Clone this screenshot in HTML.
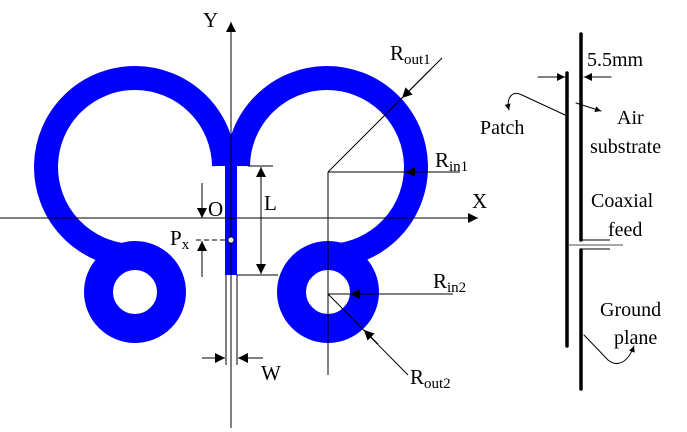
<!DOCTYPE html>
<html><head><style>html,body{margin:0;padding:0;background:#fff}svg{display:block}</style></head>
<body>
<svg width="687" height="432" viewBox="0 0 687 432" xmlns="http://www.w3.org/2000/svg" font-family="Liberation Serif, serif">
<defs>
<marker id="a" viewBox="0 0 10 10" refX="10" refY="5" markerWidth="10" markerHeight="8" markerUnits="userSpaceOnUse" orient="auto"><path d="M0,0L10,5L0,10z" fill="#000"/></marker>
<marker id="b" viewBox="0 0 10 10" refX="10" refY="5" markerWidth="14" markerHeight="10" markerUnits="userSpaceOnUse" orient="auto"><path d="M0,0L10,5L0,10z" fill="#000"/></marker>
<marker id="s" viewBox="0 0 10 10" refX="10" refY="5" markerWidth="7" markerHeight="6" markerUnits="userSpaceOnUse" orient="auto"><path d="M0,0L10,5L0,10z" fill="#000"/></marker>
</defs>
<g fill="none" stroke="#0000ff">
<path d="M224,166 A89,89 0 1 0 130.9,255.9" stroke-width="24"/>
<path d="M238,166 A89,89 0 1 1 331.1,255.9" stroke-width="24"/>
<circle cx="135" cy="292" r="36.5" stroke-width="29"/>
<circle cx="328" cy="292" r="36.5" stroke-width="29"/>
</g>
<rect x="225" y="164" width="12" height="111" fill="#0000ff"/>
<g stroke="#000" stroke-width="1" fill="none">
<line x1="231" y1="428" x2="231" y2="22" marker-end="url(#b)"/>
<line x1="0" y1="218" x2="478" y2="218" marker-end="url(#b)"/>
<line x1="248" y1="166" x2="273" y2="166"/>
<line x1="237" y1="275" x2="278" y2="275"/>
<line x1="261" y1="190" x2="261" y2="167" marker-end="url(#b)"/>
<line x1="261" y1="250" x2="261" y2="274" marker-end="url(#b)"/>
<line x1="261" y1="190" x2="261" y2="250"/>
<line x1="202" y1="183" x2="202" y2="218" marker-end="url(#b)"/>
<line x1="202" y1="277" x2="202" y2="241" marker-end="url(#b)"/>
<line x1="196" y1="240" x2="229" y2="240" stroke-dasharray="5,3"/>
<line x1="226" y1="275" x2="226" y2="365"/>
<line x1="237" y1="275" x2="237" y2="365"/>
<line x1="202" y1="358" x2="225" y2="358" marker-end="url(#b)"/>
<line x1="263" y1="358" x2="238" y2="358" marker-end="url(#b)"/>
<line x1="328" y1="172" x2="328" y2="375"/>
<line x1="328" y1="172" x2="442" y2="58"/>
<line x1="430" y1="70" x2="402" y2="98" marker-end="url(#b)"/>
<line x1="328" y1="172" x2="460" y2="172"/>
<line x1="430" y1="172" x2="405" y2="172" marker-end="url(#b)"/>
<line x1="328" y1="294" x2="453" y2="294"/>
<line x1="380" y1="294" x2="350" y2="294" marker-end="url(#b)"/>
<line x1="328" y1="294" x2="408" y2="375"/>
<line x1="378" y1="344" x2="364" y2="330" marker-end="url(#b)"/>
</g>
<circle cx="231" cy="240" r="3" fill="#fff" stroke="#000" stroke-width="0.8"/>
<g font-size="21" fill="#000">
<text x="203" y="27">Y</text>
<text x="472" y="208">X</text>
<text x="208" y="216">O</text>
<text x="264" y="210">L</text>
<text x="170" y="245">P<tspan font-size="15" dy="4">x</tspan></text>
<text x="261" y="380">W</text>
<text x="390" y="60">R<tspan font-size="15" dy="4">out1</tspan></text>
<text x="435" y="167">R<tspan font-size="15" dy="4">in1</tspan></text>
<text x="433" y="288">R<tspan font-size="15" dy="4">in2</tspan></text>
<text x="410" y="384">R<tspan font-size="15" dy="4">out2</tspan></text>
</g>
<g stroke="#000" fill="none" stroke-linecap="round">
<line x1="581" y1="34" x2="581" y2="240" stroke-width="3.5"/>
<line x1="581" y1="250" x2="581" y2="389" stroke-width="3.5"/>
<line x1="567" y1="73" x2="567" y2="346" stroke-width="3.5"/>
<line x1="581" y1="240" x2="610" y2="240" stroke-width="1" stroke-linecap="butt"/>
<line x1="581" y1="249" x2="610" y2="249" stroke-width="1" stroke-linecap="butt"/>
<line x1="538" y1="77" x2="565" y2="77" stroke-width="1" marker-end="url(#a)"/>
<line x1="611" y1="77" x2="584" y2="77" stroke-width="1" marker-end="url(#a)"/>
<path d="M565,115 L522,95 C512,90 506,98 509,110" stroke-width="1" marker-end="url(#s)"/>
<line x1="576" y1="103" x2="601" y2="111" stroke-width="1" marker-end="url(#s)"/>
<path d="M584,335 L608,360 C618,368 628,362 634,346" stroke-width="1" marker-end="url(#s)"/>
</g>
<line x1="569" y1="245" x2="623" y2="245" stroke="#888" stroke-width="1.5"/>
<g font-size="20" fill="#000">
<text x="587" y="66">5.5mm</text>
<text x="480" y="134">Patch</text>
<text x="617" y="124">Air</text>
<text x="590" y="153">substrate</text>
<text x="591" y="207">Coaxial</text>
<text x="608" y="236">feed</text>
<text x="600" y="316">Ground</text>
<text x="614" y="344">plane</text>
</g>
</svg>
</body></html>
